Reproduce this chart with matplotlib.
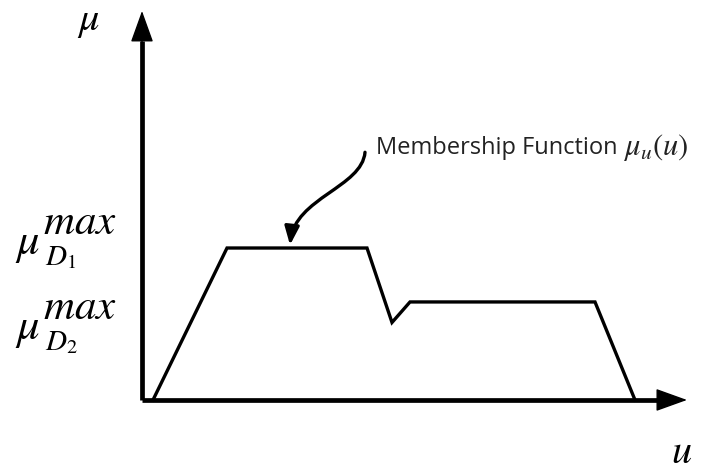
import numpy as np
from matplotlib import pyplot as plt
from matplotlib.path import Path
from matplotlib.patches import FancyArrowPatch

plt.rcParams['mathtext.fontset'] = 'stix'

# Breakpoints of the membership function (u, mu)
u_pts = [1.1, 8.5, 22.5, 25.0, 26.8, 45.3, 49.3]
mu_pts = [0.0, 1.0, 1.0, 0.51, 0.645, 0.645, 0.0]
level_names = ['D_1', 'D_2']

fig = plt.figure(figsize=(7.02, 4.72), dpi=100)
ax = fig.add_axes([0, 0, 1, 1])
ax.set_xlim(-14.2, 56.0)
ax.set_ylim(-0.474, 2.632)
ax.axis('off')

# Axes: thick shafts plus filled triangular heads
ax.plot([0, 0], [0, 2.36], color='black', lw=3.4, solid_capstyle='butt')
ax.plot([0, 52.0], [0, 0], color='black', lw=3.4, solid_capstyle='butt')
head = dict(arrowstyle='-|>,head_length=1.0,head_width=0.36', color='black',
            lw=1, mutation_scale=20, shrinkA=0, shrinkB=0)
ax.annotate('', xy=(0, 2.56), xytext=(0, 2.3), arrowprops=head)
ax.annotate('', xy=(54.5, 0), xytext=(51.5, 0), arrowprops=head)

# Membership function
ax.plot(u_pts, mu_pts, color='black', lw=2.4, solid_joinstyle='miter')

# Axis labels
ax.text(-5.4, 2.50, r'$\mu$', fontsize=29, ha='center', va='center')
ax.text(54.0, -0.34, r'$u$', fontsize=29, ha='center', va='center')

# Level labels mu_D^max, built from separate pieces
for name, y0 in zip(level_names, [0.961, 0.401]):
    ax.text(-12.7, y0, r'$\mu$', fontsize=32, ha='left', va='baseline')
    ax.text(-9.9, y0 + 0.132, r'$max$', fontsize=31, ha='left', va='baseline')
    ax.text(-9.7, y0 - 0.073, '$' + name + '$', fontsize=21, ha='left',
            va='baseline')

# Annotation with S-shaped arrow
curve = Path([(22.3, 1.63), (22.0, 1.40), (15.3, 1.33), (14.8, 1.02)],
             [Path.MOVETO, Path.CURVE4, Path.CURVE4, Path.CURVE4])
ax.add_patch(FancyArrowPatch(path=curve,
                             arrowstyle='-|>,head_length=0.55,head_width=0.22',
                             color='black', lw=2.4, mutation_scale=20))
label = ax.text(23.4, 1.66, 'Membership Function', fontsize=17,
                family='Open Sans', color='#222222', ha='left', va='center')
ax.annotate(r'$\mu_u(u)$', xy=(1, 0.5), xycoords=label, xytext=(4, 0),
            textcoords='offset points', fontsize=22, color='#222222',
            ha='left', va='center')

fig.savefig('out.png', dpi=100)
